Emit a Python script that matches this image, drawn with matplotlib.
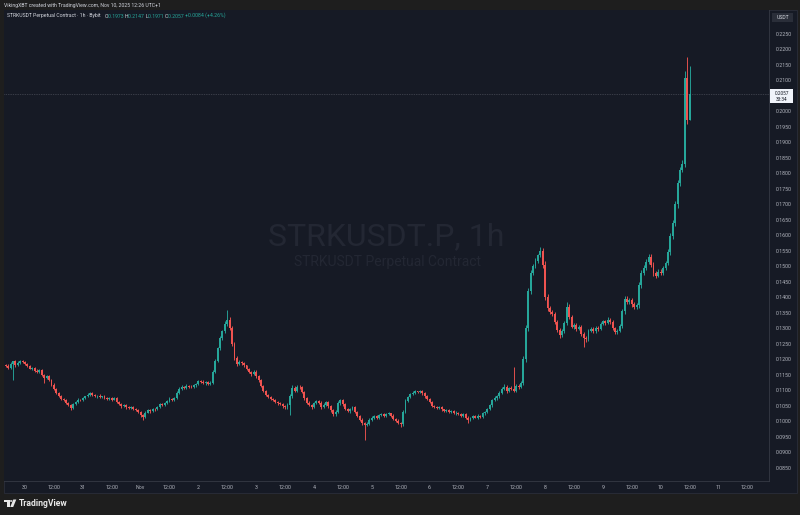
import matplotlib
matplotlib.use("Agg")
import matplotlib.pyplot as plt
import matplotlib.dates as mdates
import numpy as np
import pandas as pd
from matplotlib.patches import Rectangle, Circle, Polygon

FONT = ['Roboto', 'DejaVu Sans']
plt.rcParams['font.family'] = FONT

# ---------------- data ----------------
header_text = "VikingXBT created with TradingView.com, Nov 10, 2025 12:26 UTC+1"
legend_title = "STRKUSDT Perpetual Contract · 1h · Bybit"
watermark_title = "STRKUSDT.P, 1h"
watermark_sub = "STRKUSDT Perpetual Contract"
quote_ccy = "USDT"
countdown = "33:34"
brand = "TradingView"
first_time = "2025-10-29 16:00"
first_open = 0.1182

closes = [
    0.1178, 0.1172, 0.1185, 0.1193, 0.1180, 0.1188, 0.1195, 0.1190,
    0.1185, 0.1178, 0.1170, 0.1172, 0.1163, 0.1160, 0.1165, 0.1150, 0.1140, 0.1145, 0.1132, 0.1118,
    0.1105, 0.1092, 0.1080, 0.1072, 0.1068, 0.1060, 0.1052, 0.1042, 0.1055, 0.1062, 0.1070, 0.1068,
    0.1075, 0.1080, 0.1086, 0.1090, 0.1084, 0.1080, 0.1083, 0.1078, 0.1080, 0.1076, 0.1072, 0.1075,
    0.1070, 0.1074, 0.1062, 0.1055, 0.1048, 0.1052, 0.1045, 0.1042, 0.1046, 0.1040, 0.1035, 0.1030,
    0.1020, 0.1015, 0.1028, 0.1035, 0.1032, 0.1040, 0.1038, 0.1045, 0.1055, 0.1052, 0.1060, 0.1066,
    0.1072, 0.1068, 0.1075, 0.1092, 0.1105, 0.1112, 0.1108, 0.1115, 0.1112, 0.1110, 0.1116, 0.1120,
    0.1130, 0.1128, 0.1122, 0.1126, 0.1120, 0.1124, 0.1160, 0.1195, 0.1235, 0.1268, 0.1290, 0.1315,
    0.1328, 0.1300, 0.1250, 0.1205, 0.1185, 0.1192, 0.1188, 0.1180, 0.1168, 0.1160, 0.1152, 0.1160,
    0.1145, 0.1132, 0.1115, 0.1098, 0.1085, 0.1078, 0.1072, 0.1068, 0.1062, 0.1058, 0.1055, 0.1048,
    0.1045, 0.1052, 0.1080, 0.1108, 0.1098, 0.1112, 0.1110, 0.1095, 0.1075, 0.1060, 0.1052, 0.1046,
    0.1058, 0.1066, 0.1060, 0.1045, 0.1052, 0.1062, 0.1048, 0.1035, 0.1022, 0.1030, 0.1058, 0.1068,
    0.1055, 0.1040, 0.1032, 0.1040, 0.1045, 0.1030, 0.1018, 0.1005, 0.0995, 0.0988, 0.0992, 0.1005,
    0.1012, 0.1016, 0.1010, 0.1020, 0.1024, 0.1018, 0.1022, 0.1025, 0.1018, 0.1008, 0.1002, 0.0995,
    0.0990, 0.1030, 0.1065, 0.1078, 0.1088, 0.1092, 0.1096, 0.1094, 0.1097, 0.1090, 0.1080, 0.1072,
    0.1062, 0.1050, 0.1046, 0.1042, 0.1045, 0.1038, 0.1034, 0.1036, 0.1030, 0.1032, 0.1025, 0.1028,
    0.1022, 0.1018, 0.1024, 0.1012, 0.1005, 0.1010, 0.1016, 0.1012, 0.1018, 0.1015, 0.1025, 0.1030,
    0.1040, 0.1052, 0.1068, 0.1075, 0.1080, 0.1092, 0.1105, 0.1112, 0.1098, 0.1108, 0.1105, 0.1098,
    0.1115, 0.1110, 0.1122, 0.1200, 0.1300, 0.1420, 0.1480, 0.1500, 0.1518, 0.1535, 0.1548, 0.1505,
    0.1400, 0.1365, 0.1352, 0.1345, 0.1320, 0.1295, 0.1278, 0.1290, 0.1318, 0.1370, 0.1335, 0.1305,
    0.1312, 0.1298, 0.1305, 0.1282, 0.1270, 0.1265, 0.1292, 0.1298, 0.1290, 0.1302, 0.1298, 0.1315,
    0.1322, 0.1318, 0.1328, 0.1320, 0.1300, 0.1288, 0.1292, 0.1308, 0.1355, 0.1395, 0.1385, 0.1392,
    0.1378, 0.1368, 0.1375, 0.1440, 0.1480, 0.1495, 0.1515, 0.1530, 0.1505, 0.1478, 0.1470, 0.1482,
    0.1478, 0.1495, 0.1510, 0.1545, 0.1598, 0.1640, 0.1700, 0.1768, 0.1812, 0.1830, 0.2108, 0.1973,
    0.2057,
]

# wick lengths, in units of 0.0001
upper_wick_e4 = [
    4, 6, 5, 3, 4, 5, 3, 4,
    5, 3, 4, 4, 3, 5, 4, 3, 4, 5, 3, 3, 4, 3, 3, 4, 3, 4, 3, 3, 5, 4, 4, 3,
    4, 3, 5, 4, 3, 4, 3, 4, 3, 4, 3, 4, 3, 5, 3, 4, 3, 4, 3, 3, 4, 3, 3, 4,
    3, 4, 5, 3, 4, 3, 4, 3, 5, 4, 3, 4, 5, 3, 4, 6, 4, 5, 3, 4, 3, 4, 3, 5,
    4, 3, 4, 3, 4, 5, 6, 5, 6, 7, 6, 8, 31, 10, 8, 6, 5, 5, 4, 4, 3, 4, 3, 4,
    5, 4, 4, 3, 4, 3, 4, 3, 4, 3, 3, 4, 3, 6, 8, 10, 5, 6, 4, 5, 4, 3, 4, 3,
    5, 4, 3, 4, 6, 4, 3, 4, 3, 5, 6, 5, 4, 3, 4, 3, 5, 3, 4, 3, 4, 3, 4, 5,
    4, 3, 4, 3, 4, 3, 3, 4, 3, 4, 3, 4, 3, 6, 6, 5, 4, 4, 5, 3, 4, 4, 3, 4,
    4, 3, 4, 3, 4, 3, 3, 4, 3, 4, 3, 4, 3, 4, 3, 3, 4, 3, 4, 3, 4, 3, 5, 4,
    4, 5, 4, 6, 5, 6, 5, 7, 6, 4, 5, 70, 5, 4, 8, 10, 12, 10, 8, 7, 8, 6, 15, 10,
    12, 10, 8, 6, 7, 6, 5, 8, 6, 15, 8, 7, 6, 5, 6, 5, 6, 4, 6, 5, 6, 5, 6, 5,
    6, 5, 7, 5, 6, 5, 6, 7, 8, 10, 8, 7, 6, 8, 7, 10, 9, 10, 8, 10, 9, 8, 7, 8,
    8, 7, 8, 10, 9, 10, 12, 11, 10, 12, 22, 68, 90,
]
lower_wick_e4 = [
    3, 4, 3, 52, 4, 3, 4, 3,
    3, 4, 3, 4, 5, 3, 4, 5, 17, 4, 3, 4, 3, 4, 3, 3, 4, 3, 4, 6, 3, 4, 3, 4,
    3, 4, 3, 3, 4, 3, 4, 3, 4, 3, 4, 3, 4, 3, 4, 3, 4, 3, 4, 3, 3, 4, 3, 5,
    6, 11, 4, 3, 4, 3, 4, 3, 3, 4, 3, 4, 3, 4, 3, 3, 4, 3, 4, 3, 4, 3, 3, 4,
    4, 5, 3, 4, 3, 4, 3, 4, 5, 4, 5, 4, 6, 5, 8, 7, 6, 4, 5, 4, 3, 4, 5, 3,
    4, 5, 6, 4, 3, 4, 3, 4, 3, 4, 3, 4, 6, 4, 32, 5, 4, 4, 5, 4, 5, 4, 3, 5,
    4, 3, 4, 5, 3, 4, 5, 4, 6, 4, 3, 4, 5, 4, 3, 4, 3, 5, 4, 5, 6, 49, 4, 3,
    3, 4, 3, 4, 3, 4, 3, 3, 4, 5, 4, 5, 10, 4, 5, 4, 3, 4, 3, 4, 3, 4, 5, 4,
    4, 3, 4, 3, 3, 4, 3, 4, 3, 4, 3, 4, 3, 4, 3, 4, 10, 3, 4, 3, 4, 3, 3, 4,
    3, 4, 5, 4, 6, 5, 4, 5, 6, 4, 5, 4, 5, 6, 4, 6, 8, 10, 8, 7, 6, 8, 5, 10,
    10, 8, 7, 6, 5, 6, 8, 5, 6, 7, 6, 5, 6, 7, 5, 6, 30, 8, 6, 5, 6, 5, 6, 5,
    5, 6, 5, 6, 7, 8, 6, 5, 6, 8, 7, 6, 8, 7, 6, 8, 10, 7, 8, 6, 8, 10, 7, 6,
    7, 6, 8, 7, 8, 9, 10, 12, 10, 9, 10, 13, 2,
]

# the 0.2050 level is hidden by the last-price label in the reference
price_ticks = [0.0850, 0.0900, 0.0950, 0.1000, 0.1050, 0.1100, 0.1150, 0.1200,
               0.1250, 0.1300, 0.1350, 0.1400, 0.1450, 0.1500, 0.1550, 0.1600,
               0.1650, 0.1700, 0.1750, 0.1800, 0.1850, 0.1900, 0.1950, 0.2000,
               0.2100, 0.2150, 0.2200, 0.2250]
time_tick_start = "2025-10-30 00:00"
time_tick_labels = ["30", "12:00", "31", "12:00", "Nov", "12:00", "2", "12:00",
                    "3", "12:00", "4", "12:00", "5", "12:00", "6", "12:00",
                    "7", "12:00", "8", "12:00", "9", "12:00", "10", "12:00",
                    "11", "12:00"]

# ---------------- derived OHLC ----------------
n = min(len(closes), len(upper_wick_e4), len(lower_wick_e4))
closes = closes[:n]
opens = [first_open] + closes[:-1]
highs = [max(o, c) + u * 1e-4 for o, c, u in zip(opens, closes, upper_wick_e4)]
lows = [min(o, c) - l * 1e-4 for o, c, l in zip(opens, closes, lower_wick_e4)]
times = pd.date_range(first_time, periods=n, freq="h")
xs = mdates.date2num(times.to_pydatetime())

# ---------------- styling ----------------
W, H = 800, 515
BG_OUT = "#1e1e1e"
BG = "#161a25"
UP = "#26a69a"
DOWN = "#ef5350"
TXT = "#b2b5be"
LINE = "#2a2e39"


def fx(x):
    return x / W


def fy(y):
    return 1 - y / H


fig = plt.figure(figsize=(W / 100, H / 100), dpi=100, facecolor=BG_OUT)

# chart panel background (behind everything)
fig.patches.append(Rectangle((fx(4), fy(493)), (797 - 4) / W, (493 - 10) / H,
                             transform=fig.transFigure, facecolor=BG,
                             edgecolor=LINE, linewidth=0.6, zorder=-5))

ax = fig.add_axes([fx(4), fy(481), (769 - 4) / W, (481 - 10) / H])
ax.set_zorder(2)
ax.set_facecolor(BG)

# y scale: 0.2250 at pixel 34, 0.0850 at pixel 467.7
ppu = (467.7 - 34) / (0.2250 - 0.0850)
ax.set_ylim(0.0850 - (481 - 467.7) / ppu, 0.2250 + (34 - 10) / ppu)
x0 = mdates.date2num(pd.Timestamp(time_tick_start).to_pydatetime())
px_per_hour = 2.408
ax.set_xlim(x0 - (25 - 4) / px_per_hour / 24, x0 + (769 - 25) / px_per_hour / 24)

# watermark (inside axes, behind candles)
ax.text(fx(386 - 4) / ((769 - 4) / W), (481 - 237) / (481 - 10), watermark_title,
        transform=ax.transAxes, fontsize=23, color="#232733",
        ha="center", va="center", zorder=1)
ax.text(fx(387 - 4) / ((769 - 4) / W), (481 - 262) / (481 - 10), watermark_sub,
        transform=ax.transAxes, fontsize=10, color="#232733",
        ha="center", va="center", zorder=1)

# candles
cols = [UP if c >= o else DOWN for o, c in zip(opens, closes)]
ax.vlines(xs, lows, highs, colors=cols, linewidth=0.65, zorder=3)
bottoms = [min(o, c) for o, c in zip(opens, closes)]
heights = [max(abs(c - o), 0.00010) for o, c in zip(opens, closes)]
ax.bar(xs, heights, width=0.8 / 24, bottom=bottoms, color=cols, linewidth=0, zorder=4)

# last price line
last_price = closes[-1]
ax.axhline(last_price, color="#5d606b", linewidth=0.5, linestyle=(0, (1, 1.5)), zorder=2)

# axes ticks
ax.yaxis.tick_right()
ax.set_yticks(price_ticks)
ax.set_yticklabels([f"{p:.4f}" for p in price_ticks])
ax.tick_params(axis="y", length=0, pad=5.2, labelsize=3.8, labelcolor=TXT)
tick_times = pd.date_range(time_tick_start, periods=len(time_tick_labels), freq="12h")
ax.set_xticks(mdates.date2num(tick_times.to_pydatetime()))
ax.set_xticklabels(time_tick_labels)
ax.tick_params(axis="x", length=0, pad=3.2, labelsize=3.8, labelcolor=TXT)
ax.grid(False)
for s in ["left", "top"]:
    ax.spines[s].set_visible(False)
for s in ["right", "bottom"]:
    ax.spines[s].set_color("#363a45")
    ax.spines[s].set_linewidth(0.6)

# header
fig.text(fx(4), fy(5), header_text, fontsize=3.7, color="#d1d4dc", ha="left", va="center")

# legend line (chained text pieces)
o, h, l, c = opens[-1], highs[-1], lows[-1], closes[-1]
chg = c - o
pct = chg / o * 100
parts = [("O", "#d1d4dc"), (f"{o:.4f} ", UP),
         ("H", "#d1d4dc"), (f"{h:.4f} ", UP), ("L", "#d1d4dc"), (f"{l:.4f} ", UP),
         ("C", "#d1d4dc"), (f"{c:.4f} ", UP), (f"{chg:+.4f} ({pct:+.2f}%)", UP)]
prev = fig.text(fx(7), fy(16), legend_title + "   ", fontsize=3.7, color="#d1d4dc",
                ha="left", va="center", zorder=10)
for s, col in parts:
    prev = ax.annotate(s, xy=(1, 0), xycoords=prev, fontsize=3.7, color=col,
                       ha="left", va="bottom", annotation_clip=False, zorder=10)

# quote currency box
fig.patches.append(Rectangle((fx(772), fy(22)), 21 / W, 9 / H, transform=fig.transFigure,
                             facecolor="#2a2e39", edgecolor="none", zorder=5))
fig.text(fx(782.5), fy(17.5), quote_ccy, fontsize=3.7, color="#d1d4dc",
         ha="center", va="center", zorder=6)

# last price label
fig.canvas.draw()
yp = ax.transData.transform((0, last_price))[1]
yp_px = H - yp
fig.patches.append(Rectangle((fx(770), fy(yp_px + 9.5)), 23 / W, 14 / H,
                             transform=fig.transFigure, facecolor="#f0f3fa",
                             edgecolor="none", zorder=5))
fig.text(fx(781.5), fy(yp_px - 0.6), f"{last_price:.4f}", fontsize=3.4, color="#131722",
         ha="center", va="center", zorder=6)
fig.text(fx(781.5), fy(yp_px + 5.6), countdown, fontsize=3.4, color="#131722",
         ha="center", va="center", zorder=6)

# TradingView brand (bottom-left)
logo_col = "#e8e8e8"
fig.patches.append(Polygon([(fx(4), fy(499.5)), (fx(9.5), fy(499.5)), (fx(9.5), fy(507)),
                            (fx(7), fy(507)), (fx(7), fy(502)), (fx(4), fy(502))],
                           closed=True, transform=fig.transFigure, facecolor=logo_col,
                           edgecolor="none"))
fig.patches.append(Circle((fx(11.2), fy(501)), 1.3 / W, transform=fig.transFigure,
                          facecolor=logo_col, edgecolor="none"))
fig.patches.append(Polygon([(fx(13.3), fy(499.5)), (fx(16.3), fy(499.5)), (fx(13.2), fy(507)),
                            (fx(10.2), fy(507))], closed=True, transform=fig.transFigure,
                           facecolor=logo_col, edgecolor="none"))
fig.text(fx(18.5), fy(503.5), brand, fontsize=6.2, fontweight="bold", color=logo_col,
         ha="left", va="center")

fig.savefig("out.png", dpi=100, facecolor=BG_OUT)
